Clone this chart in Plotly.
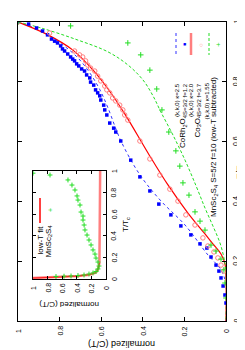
import plotly.graph_objects as go

# ---------------- data (T/Tc, normalized C/T) ----------------
# CoRh2O4 data (blue squares)
cr_t = [1.0, 0.993, 0.980, 0.970, 0.957, 0.943, 0.936, 0.930, 0.920, 0.910, 0.903, 0.893, 0.883,
        0.876, 0.870, 0.860, 0.853, 0.843, 0.836, 0.823, 0.813, 0.799, 0.789, 0.773, 0.763,
        0.753, 0.739, 0.722, 0.706, 0.689, 0.662, 0.645, 0.632, 0.602, 0.538, 0.482, 0.435,
        0.391, 0.355, 0.318, 0.288, 0.258, 0.244, 0.214, 0.187, 0.167, 0.144, 0.117, 0.087, 0.060]
cr_v = [1.0, 0.949, 0.911, 0.882, 0.858, 0.839, 0.824, 0.810, 0.795, 0.786, 0.776, 0.761, 0.747,
        0.737, 0.728, 0.718, 0.708, 0.694, 0.680, 0.670, 0.655, 0.651, 0.636, 0.627, 0.617,
        0.607, 0.602, 0.588, 0.583, 0.573, 0.559, 0.540, 0.530, 0.506, 0.458, 0.414, 0.366,
        0.323, 0.265, 0.217, 0.169, 0.125, 0.092, 0.072, 0.048, 0.034, 0.024, 0.014, 0.005, 0.0]
# CoRh2O4 fit (k,k,0) kappa=2.5
cr_fit_t = [1.0, 0.967, 0.923, 0.880, 0.829, 0.773, 0.712, 0.602, 0.488, 0.401, 0.321, 0.221, 0.171, 0.120, 0.0]
cr_fit_v = [1.0, 0.880, 0.784, 0.712, 0.654, 0.606, 0.567, 0.505, 0.413, 0.312, 0.197, 0.087, 0.024, 0.0, 0.0]

# Co3O4 data (open circles)
co_t = [1.0, 0.963, 0.903, 0.890, 0.883, 0.870, 0.856, 0.846, 0.836, 0.819, 0.803, 0.786, 0.773,
        0.763, 0.746, 0.736, 0.722, 0.706, 0.689, 0.672, 0.602, 0.542, 0.488, 0.441, 0.401,
        0.355, 0.321, 0.278, 0.251, 0.231, 0.211, 0.187, 0.167]
co_v = [1.0, 0.848, 0.728, 0.704, 0.689, 0.675, 0.665, 0.651, 0.631, 0.617, 0.602, 0.583, 0.573,
        0.559, 0.545, 0.530, 0.511, 0.496, 0.487, 0.472, 0.414, 0.366, 0.318, 0.270, 0.231,
        0.193, 0.149, 0.111, 0.087, 0.058, 0.039, 0.024, 0.010]
# Co3O4 fit (k,k,0) kappa=2.0
co_fit_t = [1.0, 0.957, 0.906, 0.839, 0.776, 0.692, 0.562, 0.455, 0.361, 0.291, 0.258, 0.224, 0.191, 0.144, 0.0]
co_fit_v = [1.0, 0.856, 0.736, 0.639, 0.567, 0.486, 0.375, 0.279, 0.183, 0.101, 0.063, 0.024, 0.005, 0.0, 0.0]

# MnSc2S4 data, low-T subtracted (green plus)
ms_t = [1.0, 0.987, 0.930, 0.890, 0.839, 0.776, 0.706, 0.632, 0.569, 0.518, 0.462, 0.421, 0.365,
        0.334, 0.304, 0.254, 0.234, 0.207, 0.171, 0.127, 0.077]
ms_v = [1.0, 0.747, 0.472, 0.410, 0.366, 0.333, 0.308, 0.275, 0.241, 0.222, 0.207, 0.178, 0.149,
        0.125, 0.101, 0.072, 0.048, 0.024, 0.010, 0.005, 0.0]
# MnSc2S4 fit (k,k,0) kappa=1.55
ms_fit_t = [1.0, 0.980, 0.943, 0.900, 0.856, 0.806, 0.753, 0.699, 0.622, 0.538, 0.452, 0.378, 0.318,
            0.261, 0.211, 0.161, 0.0]
ms_fit_v = [1.0, 0.889, 0.726, 0.567, 0.471, 0.399, 0.351, 0.313, 0.255, 0.197, 0.144, 0.101, 0.063,
            0.029, 0.010, 0.0, 0.0]

# inset: MnSc2S4 raw data and low-T fit
in_t = [0.98, 0.963, 0.917, 0.87, 0.824, 0.769, 0.731, 0.685, 0.62, 0.583, 0.546, 0.5, 0.454, 0.407,
        0.361, 0.315, 0.269, 0.231, 0.194, 0.157, 0.12, 0.093, 0.069, 0.056, 0.046, 0.037, 0.032,
        0.028, 0.026, 0.023]
in_v = [1.0, 0.767, 0.521, 0.466, 0.425, 0.397, 0.384, 0.356, 0.342, 0.315, 0.315, 0.3, 0.288, 0.26,
        0.233, 0.205, 0.178, 0.151, 0.137, 0.11, 0.096, 0.11, 0.137, 0.178, 0.233, 0.301, 0.384,
        0.479, 0.575, 0.685]
in_fit_t = [1.0, 0.8, 0.6, 0.4, 0.25, 0.15, 0.1, 0.07, 0.056, 0.04, 0.028, 0.019, 0.009]
in_fit_v = [0.08, 0.08, 0.08, 0.081, 0.083, 0.09, 0.105, 0.125, 0.15, 0.23, 0.38, 0.62, 1.0]

tick_vals = [0, 0.2, 0.4, 0.6, 0.8, 1]
tick_text = ["0", "0.2", "0.4", "0.6", "0.8", "1"]

# ---------------- styling ----------------
FONT = "Liberation Sans"
W, H = 245, 350
L, R, T, B = 10, 27, 14, 37
PW, PH = W - L - R, H - T - B
BLUE, RED, PINK, GREEN = "#0000ff", "#ff0000", "#ff7f7f", "#22dd22"


def pxx(x):
    return (x - L) / PW


def pxy(y):
    return (H - B - y) / PH


fig = go.Figure()

# main plot
fig.add_trace(go.Scatter(x=cr_fit_v, y=cr_fit_t, mode="lines", line_shape="spline",
                         line=dict(color="#3030ff", width=1, dash="dot")))
fig.add_trace(go.Scatter(x=co_fit_v, y=co_fit_t, mode="lines", line_shape="spline",
                         line=dict(color=RED, width=1.2)))
fig.add_trace(go.Scatter(x=ms_fit_v, y=ms_fit_t, mode="lines", line_shape="spline",
                         line=dict(color=GREEN, width=1, dash="3px,2px")))
fig.add_trace(go.Scatter(x=cr_v, y=cr_t, mode="markers",
                         marker=dict(symbol="square", size=3.5, color=BLUE)))
fig.add_trace(go.Scatter(x=co_v, y=co_t, mode="markers",
                         marker=dict(symbol="circle-open", size=4.5, color=PINK, line=dict(width=1))))
fig.add_trace(go.Scatter(x=ms_v, y=ms_t, mode="markers",
                         marker=dict(symbol="cross-thin", size=4, color=GREEN,
                                     line=dict(width=1, color=GREEN))))

# inset
fig.add_trace(go.Scatter(x=in_fit_v, y=in_fit_t, mode="lines", xaxis="x2", yaxis="y2",
                         line=dict(color=PINK, width=2.5)))
fig.add_trace(go.Scatter(x=in_fit_v[5:], y=in_fit_t[5:], mode="lines", xaxis="x2", yaxis="y2",
                         line=dict(color=RED, width=0.8)))
fig.add_trace(go.Scatter(x=in_v, y=in_t, mode="markers", xaxis="x2", yaxis="y2",
                         marker=dict(symbol="cross-thin", size=3.5, color=GREEN,
                                     line=dict(width=1, color=GREEN))))

axis_common = dict(showgrid=False, zeroline=False, showline=True, linecolor="black", linewidth=1,
                   ticks="inside", mirror="ticks", tickcolor="black", showticklabels=False,
                   tickvals=tick_vals)

ix0, ix1 = pxx(25), pxx(98)
iy0, iy1 = pxy(271), pxy(163)

fig.update_layout(
    width=W, height=H,
    margin=dict(l=L, r=R, t=T, b=B, pad=0),
    paper_bgcolor="white", plot_bgcolor="white",
    showlegend=False,
    font=dict(family=FONT, size=7, color="black"),
    xaxis=dict(domain=[0, 1], range=[1, 0], ticklen=4, **axis_common),
    yaxis=dict(domain=[0, 1], range=[0, 1], side="right", ticklen=4, **axis_common),
    xaxis2=dict(domain=[ix0, ix1], range=[1, 0], anchor="y2", ticklen=3, **axis_common),
    yaxis2=dict(domain=[iy0, iy1], range=[0, 1], anchor="x2", side="right", ticklen=3,
                **axis_common),
)

ann = []


def text(x, y, s, size=8, angle=-90, xa="center", ya="middle", color="black",
         xref="paper", yref="paper"):
    ann.append(dict(x=pxx(x) if xref == "paper" else x, y=pxy(y) if yref == "paper" else y,
                    xref=xref, yref=yref, text=s, showarrow=False,
                    textangle=angle, xanchor=xa, yanchor=ya,
                    font=dict(family=FONT, size=size, color=color)))


# tick labels (rotated, placed through the axes' scales)
for v, s in zip(tick_vals, tick_text):
    text(v, 323, s, size=7, xref="x")
    text(227.5, v, s, size=7, yref="y")
    text(v, 280, s, size=7, xref="x2")
    text(106, v, s, size=7, yref="y2")

# axis titles
text(232, 163, "T/T<sub>c</sub>", size=9)
text(114, 336, "normalized (C/T)", size=9, angle=180)
text(118, 217, "T/T<sub>c</sub>", size=8)
text(61, 297, "normalized (C/T)", size=8, angle=180)

# legend (rotated)
text(169, 73, "(k,k,0) κ=2.5", size=6, ya="top")
text(177, 73, "S=3/2 f=1.2", size=6, ya="top")
text(174.5, 105, "CoRh<sub>2</sub>O<sub>4</sub>", size=8, ya="top")
text(183, 73, "(k,k,0) κ=2.0", size=6, ya="top")
text(191, 73, "S=3/2 f=3.7", size=6, ya="top")
text(189, 105, "Co<sub>3</sub>O<sub>4</sub>", size=8, ya="top")
text(198, 73, "(k,k,0) κ=1.55", size=6, ya="top")
text(206, 67, "MnSc<sub>2</sub>S<sub>4</sub> S=5/2 f=10 (low-T subtracted)", size=8, ya="top")
text(176, 37, "■", size=5, color=BLUE)
text(193, 37, "○", size=6, color=PINK)
text(211, 37, "+", size=8, color=GREEN)

# inset legend
text(32, 216, "low-T fit", size=8, ya="top")
text(40.5, 216, "MnSc<sub>2</sub>S<sub>4</sub>", size=8, ya="top")
text(42, 202, "+", size=7, color=GREEN)

fig.update_layout(annotations=ann)

shapes = []


def seg(x0, y0, x1, y1, color, width, dash="solid"):
    shapes.append(dict(type="line", xref="paper", yref="paper", x0=pxx(x0), y0=pxy(y0),
                       x1=pxx(x1), y1=pxy(y1), line=dict(color=color, width=width, dash=dash)))


seg(168, 25, 168, 47, "#3030ff", 1, "dot")
seg(183, 25, 183, 47, PINK, 2.5)
seg(201, 25, 201, 47, GREEN, 1, "3px,2px")
seg(32, 190, 32, 215, RED, 1.5)
fig.update_layout(shapes=shapes)

fig.write_html("out.html")
